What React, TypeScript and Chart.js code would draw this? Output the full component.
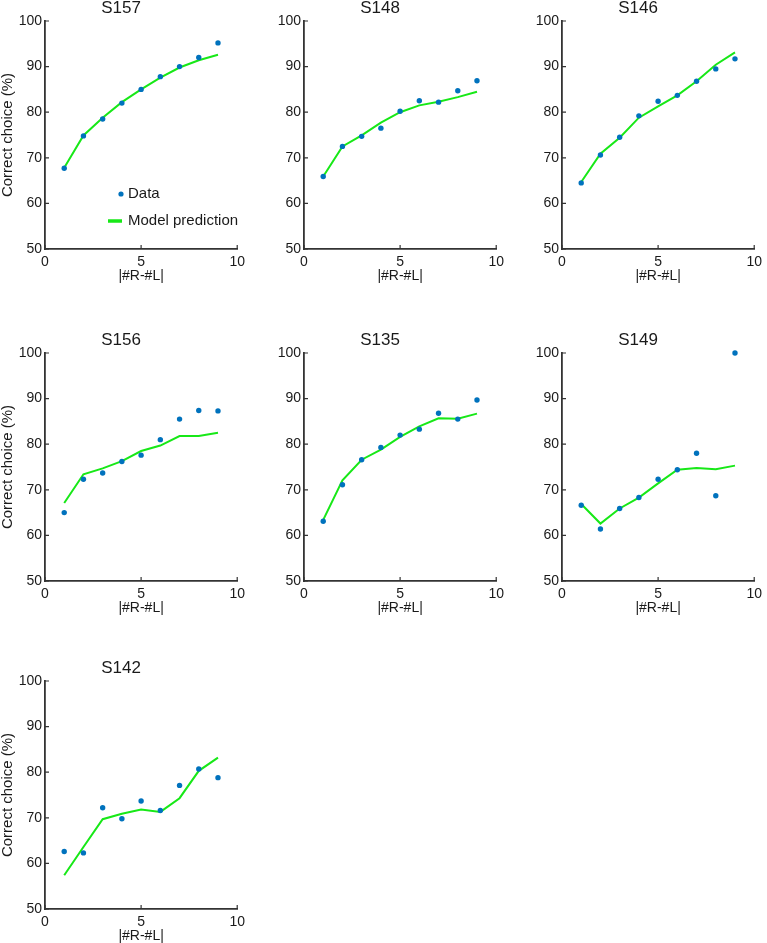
import React, { useEffect, useRef } from 'react';
import { Chart, registerables } from 'chart.js';

Chart.register(...registerables);

// ---------- data ----------
const xValues = [1, 2, 3, 4, 5, 6, 7, 8, 9];
const xTicks = [0, 5, 10];
const yTicks = [50, 60, 70, 80, 90, 100];

const dataS157 = [67.7, 74.8, 78.5, 82.0, 85.0, 87.8, 90.0, 92.0, 95.2];
const modelS157 = [67.8, 74.9, 78.8, 82.2, 85.0, 87.6, 89.8, 91.4, 92.6];

const dataS148 = [65.9, 72.5, 74.7, 76.5, 80.2, 82.5, 82.2, 84.7, 86.9];
const modelS148 = [65.9, 72.5, 74.9, 77.7, 80.0, 81.5, 82.3, 83.3, 84.5];

const dataS146 = [64.5, 70.6, 74.5, 79.2, 82.4, 83.7, 86.8, 89.5, 91.7];
const modelS146 = [64.7, 70.9, 74.4, 78.8, 81.3, 83.7, 86.8, 90.4, 93.1];

const dataS156 = [65.0, 72.3, 73.7, 76.2, 77.6, 81.0, 85.5, 87.4, 87.3];
const modelS156 = [67.1, 73.4, 74.7, 76.3, 78.5, 79.7, 81.8, 81.8, 82.5];

const dataS135 = [63.1, 71.1, 76.6, 79.3, 82.0, 83.3, 86.8, 85.5, 89.7];
const modelS135 = [63.4, 72.1, 76.6, 78.8, 81.6, 83.9, 85.7, 85.6, 86.7];

const dataS149 = [66.6, 61.4, 65.9, 68.3, 72.3, 74.4, 78.0, 68.7, 100.0];
const modelS149 = [66.9, 62.6, 65.9, 68.3, 71.4, 74.4, 74.8, 74.5, 75.3];

const dataS142 = [62.6, 62.3, 72.2, 69.8, 73.7, 71.6, 77.1, 80.7, 78.8];
const modelS142 = [57.4, 63.6, 69.7, 70.9, 71.8, 71.3, 74.3, 80.3, 83.2];

const subjectNames = ['S157', 'S148', 'S146', 'S156', 'S135', 'S149', 'S142'];
const subjectData = [dataS157, dataS148, dataS146, dataS156, dataS135, dataS149, dataS142];
const subjectModel = [modelS157, modelS148, modelS146, modelS156, modelS135, modelS149, modelS142];

const xLabel = '|#R-#L|';
const yLabel = 'Correct choice (%)';
const legendData = 'Data';
const legendModel = 'Model prediction';

// ---------- styles / layout ----------
const FONT = "'Liberation Sans', Arial, Helvetica, sans-serif";
const TEXT = '#1a1a1a';
const AXIS = '#333333';
const DOT = '#0072BD';
const GREEN = '#17e817';

const colLeft = [0, 259, 517];
const rowTop = [-3, 329, 657];
const CANVAS_W = 250;
const CANVAS_H = 288;

Chart.defaults.font.family = FONT;
Chart.defaults.color = TEXT;

const inwardTicks = {
  id: 'inwardTicks',
  afterDraw(chart: any) {
    const { ctx, chartArea } = chart;
    const xs = chart.scales.x;
    const ys = chart.scales.y;
    ctx.save();
    ctx.strokeStyle = AXIS;
    ctx.lineWidth = 1.2;
    ctx.beginPath();
    xTicks.forEach((v) => {
      const px = xs.getPixelForValue(v);
      ctx.moveTo(px, chartArea.bottom);
      ctx.lineTo(px, chartArea.bottom - 4);
    });
    yTicks.forEach((v) => {
      const py = ys.getPixelForValue(v);
      ctx.moveTo(chartArea.left, py);
      ctx.lineTo(chartArea.left + 4, py);
    });
    ctx.stroke();
    ctx.restore();
  },
};

const innerLegend = {
  id: 'innerLegend',
  afterDatasetsDraw(chart: any) {
    const { ctx, chartArea } = chart;
    const l = chartArea.left;
    const t = chartArea.top;
    ctx.save();
    ctx.fillStyle = DOT;
    ctx.beginPath();
    ctx.arc(l + 76, t + 173, 2.6, 0, Math.PI * 2);
    ctx.fill();
    ctx.strokeStyle = GREEN;
    ctx.lineWidth = 3.5;
    ctx.beginPath();
    ctx.moveTo(l + 63, t + 200);
    ctx.lineTo(l + 77, t + 200);
    ctx.stroke();
    ctx.fillStyle = TEXT;
    ctx.font = `15px ${FONT}`;
    ctx.textBaseline = 'middle';
    ctx.textAlign = 'left';
    ctx.fillText(legendData, l + 83, t + 173);
    ctx.fillText(legendModel, l + 83, t + 200);
    ctx.restore();
  },
};

function Panel({ index }: { index: number }) {
  const ref = useRef<HTMLCanvasElement>(null);
  const col = index % 3;
  const row = Math.floor(index / 3);
  useEffect(() => {
    const name = subjectNames[index];
    const data = subjectData[index];
    const model = subjectModel[index];
    const plugins: any[] = [inwardTicks];
    if (index === 0) plugins.push(innerLegend);
    const chart = new Chart(ref.current as HTMLCanvasElement, {
      type: 'scatter',
      data: {
        datasets: [
          {
            label: legendData,
            data: xValues.map((x, i) => ({ x, y: data[i] })),
            showLine: false,
            pointRadius: 2.7,
            pointBorderWidth: 0,
            pointBackgroundColor: DOT,
            backgroundColor: DOT,
            order: 0,
            clip: false,
          } as any,
          {
            label: legendModel,
            data: xValues.map((x, i) => ({ x, y: model[i] })),
            showLine: true,
            borderColor: GREEN,
            borderWidth: 2,
            pointRadius: 0,
            tension: 0,
            order: 1,
            clip: false,
          } as any,
        ],
      },
      options: {
        responsive: false,
        animation: false,
        events: [],
        layout: { padding: { left: 0, right: 8, top: 0, bottom: 0 } },
        plugins: {
          legend: { display: false },
          tooltip: { enabled: false },
          title: {
            display: true,
            text: name,
            color: TEXT,
            font: { size: 17, weight: 'normal', lineHeight: 20 / 17 },
            padding: { top: 1, bottom: 3 },
          },
        },
        scales: {
          x: {
            type: 'linear',
            min: 0,
            max: 10,
            afterBuildTicks: (s: any) => {
              s.ticks = xTicks.map((v) => ({ value: v }));
            },
            afterFit: (s: any) => {
              s.height = 36;
            },
            grid: { display: true, drawOnChartArea: false, drawTicks: false },
            border: { display: true, color: AXIS, width: 1.8 },
            ticks: { padding: 5, color: TEXT, font: { size: 14 }, maxRotation: 0, autoSkip: false },
            title: { display: true, text: xLabel, color: TEXT, font: { size: 14 }, padding: 0 },
          },
          y: {
            type: 'linear',
            min: 50,
            max: 100,
            afterBuildTicks: (s: any) => {
              s.ticks = yTicks.map((v) => ({ value: v }));
            },
            afterFit: (s: any) => {
              s.width = 45;
            },
            grid: { display: true, drawOnChartArea: false, drawTicks: false },
            border: { display: true, color: AXIS, width: 1.8 },
            ticks: { padding: 3, color: TEXT, font: { size: 14 }, autoSkip: false },
            title: { display: col === 0, text: yLabel, color: TEXT, font: { size: 15 }, padding: { top: -1, bottom: 0 } },
          },
        },
      } as any,
      plugins,
    });
    return () => chart.destroy();
  }, [index, col]);

  return (
    <canvas
      ref={ref}
      width={CANVAS_W}
      height={CANVAS_H}
      style={{
        position: 'absolute',
        left: colLeft[col],
        top: rowTop[row],
        width: CANVAS_W,
        height: CANVAS_H,
        display: 'block',
      }}
    />
  );
}

export default function App() {
  return (
    <div
      style={{
        position: 'absolute',
        left: 0,
        top: 0,
        width: 767,
        height: 943,
        overflow: 'hidden',
        background: '#ffffff',
      }}
    >
      {subjectNames.map((_, i) => (
        <Panel key={i} index={i} />
      ))}
    </div>
  );
}
